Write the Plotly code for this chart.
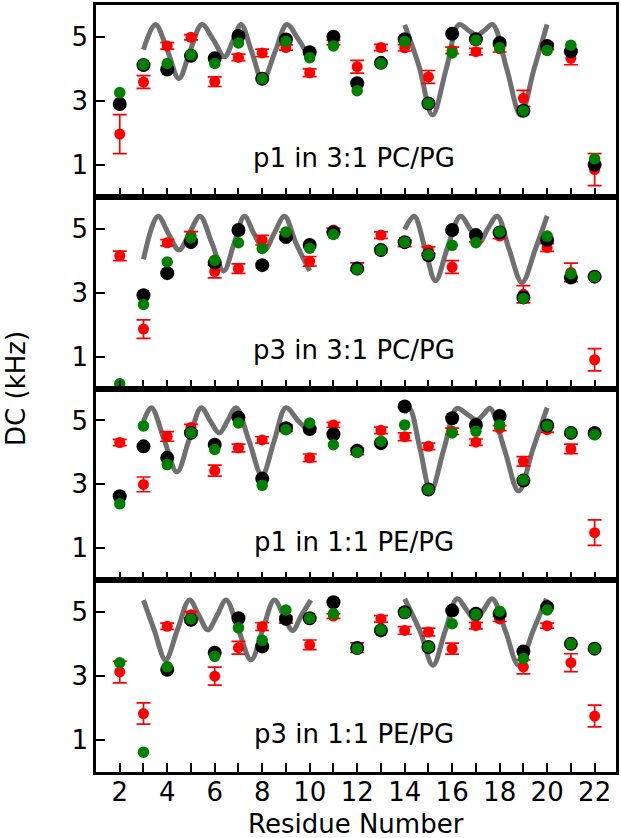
import plotly.graph_objects as go
from plotly.subplots import make_subplots

residues = list(range(2, 23))

panel_labels = ["p1 in 3:1 PC/PG", "p3 in 3:1 PC/PG", "p1 in 1:1 PE/PG", "p3 in 1:1 PE/PG"]

# ---- panel 1: p1 in 3:1 PC/PG ----
p1pc_black = [2.90, 4.12, 3.98, 4.41, 4.33, 5.03, 3.69, 4.92, 4.52, 5.01, 3.55, 4.19, 4.93, 2.92, 5.10, 4.93, 4.81, 2.69, 4.72, 4.55, 1.00]
p1pc_green = [3.26, 4.14, 4.17, 4.44, 4.17, 4.81, 3.69, 4.86, 4.35, 4.72, 3.32, 4.17, 4.86, 2.92, 4.50, 4.90, 4.66, 2.69, 4.58, 4.74, 1.19]
p1pc_red = [1.96, 3.59, 4.72, 4.99, 3.60, 4.36, 4.50, 4.67, 3.88, 4.82, 4.07, 4.67, 4.66, 3.75, 4.58, 4.54, 4.63, 3.08, 4.70, 4.33, 0.85]
p1pc_err = [0.61, 0.20, 0.10, 0.08, 0.15, 0.10, 0.12, 0.08, 0.12, 0.07, 0.20, 0.10, 0.10, 0.20, 0.10, 0.10, 0.10, 0.25, 0.10, 0.20, 0.50]

# ---- panel 2: p3 in 3:1 PC/PG ----
p3pc_black = [None, 2.92, 3.61, 4.58, 3.94, 4.96, 3.86, 4.74, 4.49, 4.88, 3.75, 4.33, 4.58, 4.17, 4.96, 4.80, 4.88, 2.85, 4.65, 3.47, 3.50]
p3pc_green = [0.15, 2.63, 3.96, 4.72, 4.01, 4.56, 4.38, 4.90, 4.39, 4.82, 3.73, 4.33, 4.58, 4.19, 4.48, 4.56, 4.90, 2.82, 4.77, 3.59, 3.50]
p3pc_red = [4.15, 1.86, 4.56, 4.79, 3.66, 3.75, 4.64, 4.79, 3.98, 4.96, 3.81, 4.80, 4.54, 4.33, 3.80, 4.67, 4.77, 2.95, 4.41, 3.63, 0.90]
p3pc_err = [0.15, 0.29, 0.10, 0.12, 0.20, 0.15, 0.15, 0.10, 0.15, 0.06, 0.12, 0.10, 0.10, 0.10, 0.20, 0.08, 0.08, 0.27, 0.12, 0.29, 0.35]

# ---- panel 3: p1 in 1:1 PE/PG ----
p1pe_black = [2.63, 4.19, 3.83, 4.61, 4.24, 5.09, 3.18, 4.76, 4.73, 4.57, 4.05, 4.29, 5.44, 2.84, 5.07, 4.86, 5.14, 3.12, 4.84, 4.61, 4.61]
p1pe_green = [2.39, 4.83, 3.62, 4.61, 4.09, 4.92, 2.97, 4.71, 4.92, 4.24, 4.00, 4.35, 4.86, 2.84, 4.61, 4.66, 4.86, 3.14, 4.83, 4.61, 4.55]
p1pe_red = [4.31, 3.00, 4.50, 4.78, 3.43, 4.14, 4.39, 4.76, 3.83, 4.86, 4.03, 4.69, 4.49, 4.19, 4.66, 4.32, 4.76, 3.72, 4.71, 4.11, 1.49]
p1pe_err = [0.10, 0.23, 0.15, 0.10, 0.17, 0.12, 0.10, 0.10, 0.12, 0.08, 0.10, 0.10, 0.12, 0.10, 0.10, 0.10, 0.08, 0.15, 0.08, 0.15, 0.40]

# ---- panel 4: p3 in 1:1 PE/PG ----
p3pe_black = [None, None, 3.20, 4.76, 3.73, 4.81, 3.93, 4.79, 4.81, 5.31, 3.88, 4.43, 5.00, 3.91, 5.05, 4.95, 4.95, 3.77, 5.16, 4.01, 3.86]
p3pe_green = [3.42, 0.62, 3.29, 4.79, 3.62, 4.51, 4.12, 5.07, 4.81, 4.95, 3.86, 4.45, 4.98, 3.91, 4.64, 4.93, 5.03, 3.55, 5.07, 4.01, 3.86]
p3pe_red = [3.13, 1.83, 4.56, 4.92, 3.00, 3.89, 4.55, 4.76, 3.98, 4.88, 3.89, 4.79, 4.43, 4.38, 3.86, 4.58, 4.79, 3.29, 4.58, 3.42, 1.75]
p3pe_err = [0.34, 0.33, 0.10, 0.10, 0.28, 0.20, 0.12, 0.10, 0.15, 0.07, 0.15, 0.10, 0.12, 0.12, 0.17, 0.10, 0.08, 0.22, 0.08, 0.28, 0.34]

# ---- dipolar wave curves ----
wave_p1pc_a_x = [3.0, 3.5, 4.0, 4.49, 4.98, 5.46, 5.95, 6.41, 6.78, 7.11, 7.55, 8.02, 8.55, 9.04, 9.5, 10.0]
wave_p1pc_a_y = [4.6, 5.39, 4.6, 3.70, 4.6, 5.39, 4.9, 4.38, 4.9, 5.39, 4.55, 3.65, 4.55, 5.39, 4.95, 4.35]
wave_p1pc_b_x = [14.0, 14.6, 15.17, 15.75, 16.29, 16.7, 17.05, 17.35, 17.7, 18.3, 18.88, 19.45, 20.0]
wave_p1pc_b_y = [5.38, 4.1, 2.56, 4.0, 5.39, 5.2, 5.05, 5.2, 5.39, 4.0, 2.56, 4.0, 5.39]

wave_p3pc_a_x = [3.0, 3.61, 4.05, 4.49, 4.93, 5.38, 5.88, 6.38, 6.82, 7.25, 7.65, 8.1, 8.5, 8.94, 9.42, 10.0]
wave_p3pc_a_y = [4.04, 5.39, 4.85, 4.33, 4.85, 5.39, 4.55, 3.68, 4.55, 5.39, 4.85, 4.33, 4.85, 5.39, 4.55, 3.68]
wave_p3pc_b_x = [14.0, 14.4, 14.85, 15.3, 15.8, 16.35, 16.75, 17.15, 17.5, 17.9, 18.4, 18.94, 19.5, 20.0]
wave_p3pc_b_y = [4.98, 5.39, 4.4, 3.37, 4.4, 5.39, 5.0, 4.58, 5.0, 5.39, 4.35, 3.32, 4.35, 5.4]

wave_p1pe_a_x = [3.0, 3.33, 3.87, 4.41, 4.92, 5.43, 5.8, 6.2, 6.55, 6.9, 7.45, 7.99, 8.5, 9.0, 9.5, 10.0]
wave_p1pe_a_y = [4.97, 5.4, 4.4, 3.39, 4.4, 5.4, 5.0, 4.61, 5.0, 5.4, 4.35, 3.28, 4.35, 5.4, 5.0, 4.65]
wave_p1pe_b_x = [14.0, 14.2, 14.65, 15.1, 15.65, 16.2, 16.62, 17.05, 17.33, 17.6, 18.2, 18.8, 19.4, 20.0]
wave_p1pe_b_y = [5.25, 5.38, 4.1, 2.79, 4.1, 5.38, 5.2, 5.02, 5.2, 5.38, 4.1, 2.79, 4.1, 5.4]

wave_p3pe_a_x = [3.0, 3.45, 3.93, 4.43, 4.94, 5.33, 5.71, 6.1, 6.48, 7.0, 7.53, 8.02, 8.51, 8.9, 9.28, 9.65, 10.05]
wave_p3pe_a_y = [5.38, 4.45, 3.51, 4.45, 5.38, 4.9, 4.45, 4.9, 5.38, 4.45, 3.51, 4.45, 5.38, 4.9, 4.43, 4.9, 5.38]
wave_p3pe_b_x = [14.0, 14.65, 15.19, 15.7, 16.21, 16.6, 16.98, 17.33, 17.69, 18.25, 18.8, 19.4, 19.97]
wave_p3pe_b_y = [5.42, 4.4, 3.34, 4.4, 5.42, 5.08, 4.74, 5.08, 5.42, 4.4, 3.34, 4.4, 5.42]

panels = [
    (p1pc_black, p1pc_green, p1pc_red, p1pc_err,
     [(wave_p1pc_a_x, wave_p1pc_a_y), (wave_p1pc_b_x, wave_p1pc_b_y)]),
    (p3pc_black, p3pc_green, p3pc_red, p3pc_err,
     [(wave_p3pc_a_x, wave_p3pc_a_y), (wave_p3pc_b_x, wave_p3pc_b_y)]),
    (p1pe_black, p1pe_green, p1pe_red, p1pe_err,
     [(wave_p1pe_a_x, wave_p1pe_a_y), (wave_p1pe_b_x, wave_p1pe_b_y)]),
    (p3pe_black, p3pe_green, p3pe_red, p3pe_err,
     [(wave_p3pe_a_x, wave_p3pe_a_y), (wave_p3pe_b_x, wave_p3pe_b_y)]),
]

FONT = "DejaVu Sans"
FS = 26
fig = make_subplots(rows=4, cols=1, shared_xaxes=True, vertical_spacing=0)

for i, (blk, grn, red, err, waves) in enumerate(panels, start=1):
    for wx, wy in waves:
        fig.add_trace(go.Scatter(x=wx, y=wy, mode="lines",
                                 line=dict(color="#707070", width=5, shape="spline", smoothing=1.0),
                                 showlegend=False, hoverinfo="skip"), row=i, col=1)
    fig.add_trace(go.Scatter(x=residues, y=red, mode="markers",
                             marker=dict(color="#ff0000", size=11, line=dict(width=0)),
                             error_y=dict(type="data", array=err, visible=True, color="#ff0000",
                                          thickness=1.7, width=7),
                             showlegend=False), row=i, col=1)
    fig.add_trace(go.Scatter(x=residues, y=blk, mode="markers",
                             marker=dict(color="#000000", size=14, line=dict(width=0)),
                             showlegend=False), row=i, col=1)
    fig.add_trace(go.Scatter(x=residues, y=grn, mode="markers",
                             marker=dict(color="#008000", size=11.5, line=dict(width=0)),
                             showlegend=False), row=i, col=1)
    fig.add_annotation(text=panel_labels[i - 1], x=11.85, y=1.2,
                       xref=f"x{'' if i == 1 else i}", yref=f"y{'' if i == 1 else i}",
                       showarrow=False, font=dict(family=FONT, size=FS, color="black"),
                       xanchor="center", yanchor="middle")

axis_common = dict(showline=True, linecolor="black", linewidth=2.5, mirror=True,
                   ticks="inside", ticklen=9, tickwidth=1.5, tickcolor="black",
                   showgrid=False, zeroline=False,
                   tickfont=dict(family=FONT, size=FS, color="black"))

for i in range(1, 5):
    fig.update_xaxes(range=[1.0, 22.9], tickvals=list(range(2, 23, 2)),
                     minor=dict(dtick=1, tick0=0, ticks="inside", ticklen=9, tickwidth=1.5,
                                tickcolor="black"),
                     ticklabelstandoff=-5,
                     showticklabels=(i == 4), row=i, col=1, **axis_common)
    fig.update_yaxes(range=[0, 6], tickvals=[1, 3, 5], row=i, col=1, **axis_common)

fig.add_annotation(text="DC (kHz)", xref="paper", yref="paper", x=-0.155, y=0.5,
                   textangle=-90, showarrow=False, xanchor="center", yanchor="middle",
                   font=dict(family=FONT, size=FS, color="black"))
fig.add_annotation(text="Residue Number", xref="paper", yref="paper", x=0.5, y=-0.0675,
                   showarrow=False, xanchor="center", yanchor="middle",
                   font=dict(family=FONT, size=FS, color="black"))

fig.update_layout(width=621, height=838, margin=dict(l=96, r=3, t=2, b=66),
                  plot_bgcolor="white", paper_bgcolor="white",
                  font=dict(family=FONT, color="black"))

fig.write_html("out.html", config={"displayModeBar": False},
               post_script="document.body.style.margin='0';document.body.style.padding='0';"
                           "document.body.style.overflow='hidden';")
